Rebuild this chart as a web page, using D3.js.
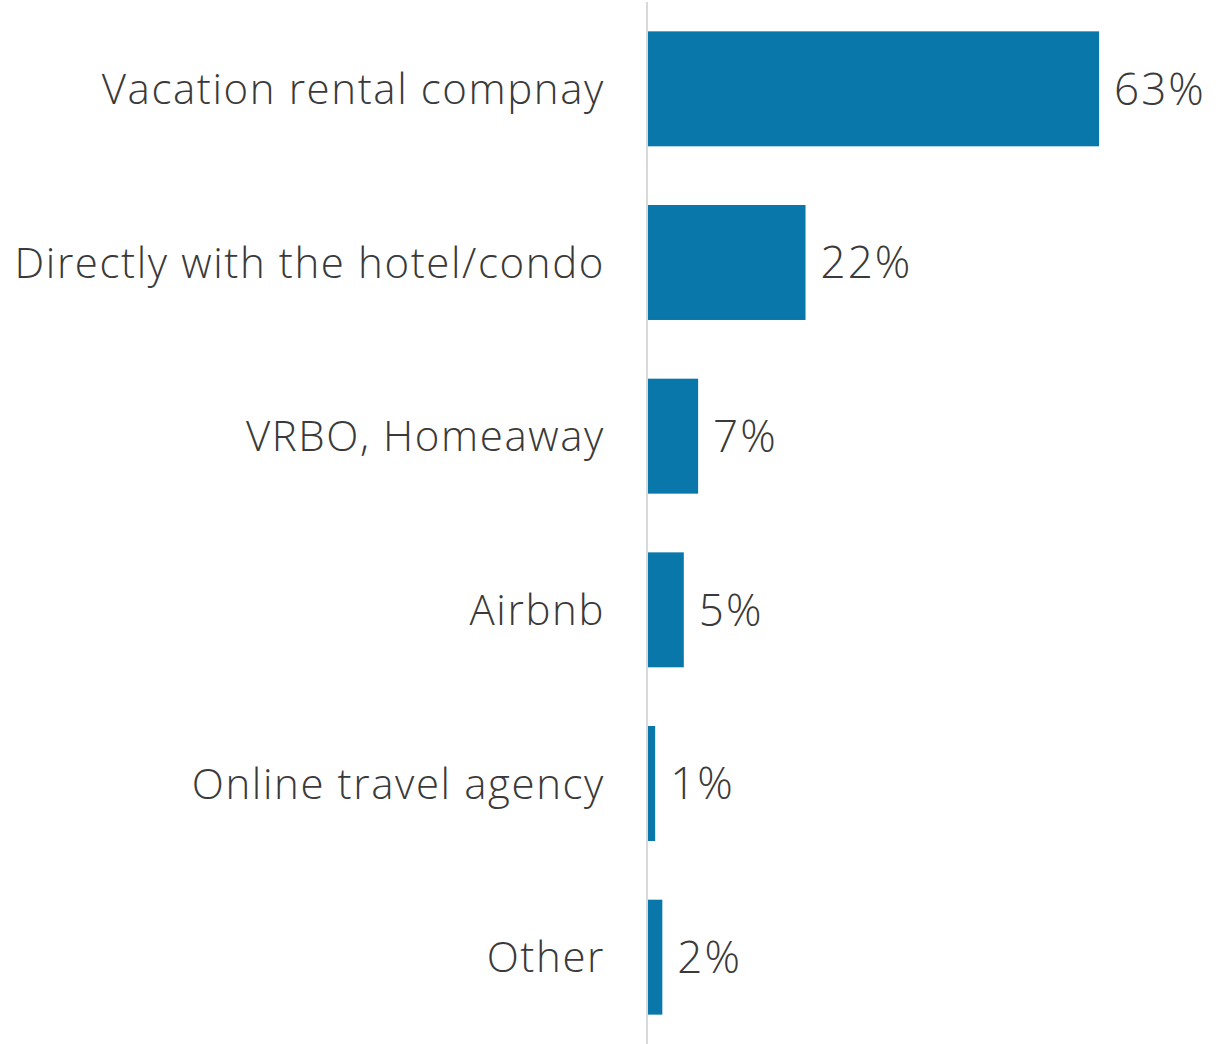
<!DOCTYPE html>
<html><head><meta charset="utf-8">
<script src="https://cdn.jsdelivr.net/npm/d3@7"></script>
<style>body{margin:0;background:#fff}svg{display:block}text{font-family:"Open Sans","Noto Sans",sans-serif;font-weight:300;fill:#3a3a3a}</style>
</head><body>
<script>
const categories = ["Vacation rental compnay","Directly with the hotel/condo","VRBO, Homeaway","Airbnb","Online travel agency","Other"];
const values = [63,22,7,5,1,2];
const valueLabels = ["63%","22%","7%","5%","1%","2%"];

const W=1227,H=1044;
const svg=d3.select("body").append("svg").attr("width",W).attr("height",H);
const x0=648;
const x=d3.scaleLinear().domain([0,100]).range([x0,x0+716]);
const y=d3.scaleBand().domain(categories).range([2,1044]).paddingInner(0.338).paddingOuter(0.169);

svg.selectAll("rect.bar").data(values).join("rect").attr("class","bar")
 .attr("x",x(0)).attr("y",(d,i)=>y(categories[i]))
 .attr("width",d=>x(d)-x(0)).attr("height",y.bandwidth()).attr("fill","#0a77ab");

svg.append("line").attr("x1",647).attr("x2",647).attr("y1",2).attr("y2",H).attr("stroke","#d9d9d9").attr("stroke-width",2);

svg.selectAll("text.cat").data(categories).join("text").attr("class","cat")
 .attr("x",605).attr("y",d=>y(d)+y.bandwidth()/2).attr("dy","0.36em").attr("text-anchor","end")
 .style("font-size","42px").style("letter-spacing","1.6px").text(d=>d);

svg.selectAll("text.val").data(values).join("text").attr("class","val")
 .attr("x",d=>x(d)+15).attr("y",(d,i)=>y(categories[i])+y.bandwidth()/2).attr("dy","0.36em")
 .style("font-size","44px").style("letter-spacing","2px").text((d,i)=>valueLabels[i]);
</script>
</body></html>
